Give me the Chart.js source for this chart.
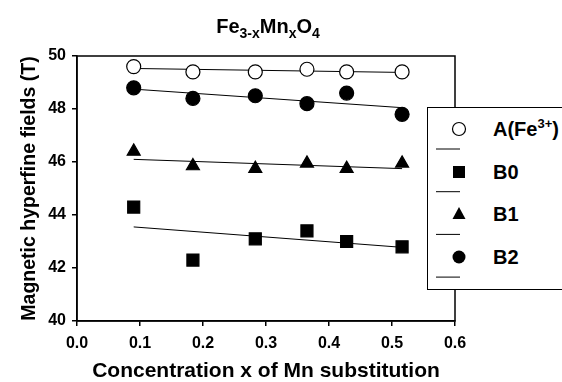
<!DOCTYPE html>
<html>
<head>
<meta charset="utf-8">
<script src="https://cdn.jsdelivr.net/npm/chart.js@4/dist/chart.umd.min.js"></script>
<style>
  body { margin: 0; background: #fff; }
  #wrap { position: relative; width: 562px; height: 382px; font-family: "Liberation Sans", Arial, sans-serif; }
  #title { position: absolute; left: 0; width: 536px; top: 14px; text-align: center; font-weight: bold; font-size: 20px; line-height: 24px; }
  #title sub { font-size: 14px; line-height: 0; }
  #legend { position: absolute; left: 427px; top: 107px; width: 145px; height: 183px; border: 1.5px solid #000; background: #fff; box-sizing: border-box; }
  .row { position: absolute; left: 0; width: 145px; }
  .row span { position: absolute; left: 65px; font-weight: bold; font-size: 20px; line-height: 24px; white-space: nowrap; }
  .row sup { font-size: 13px; line-height: 0; }
</style>
</head>
<body>
<div id="wrap">
  <canvas id="chart" width="562" height="382"></canvas>
  <div id="title">Fe<sub>3-x</sub>Mn<sub>x</sub>O<sub>4</sub></div>
  <div id="legend"></div>
</div>
<script>
// measured points
const xConc = [0.09, 0.184, 0.283, 0.365, 0.428, 0.516];
const fieldA  = [49.6, 49.4, 49.4, 49.5, 49.4, 49.4];
const fieldB0 = [44.3, 42.3, 43.1, 43.4, 43.0, 42.8];
const fieldB1 = [46.4, 45.85, 45.75, 45.95, 45.75, 45.95];
const fieldB2 = [48.8, 48.4, 48.5, 48.2, 48.6, 47.8];

const fitX = [0.09, 0.516];
const fitA  = [49.53, 49.38];
const fitB0 = [43.55, 42.78];
const fitB1 = [46.1, 45.75];
const fitB2 = [48.75, 48.05];

const xTicks = [0, 0.1, 0.2, 0.3, 0.4, 0.5, 0.6];
const yTicks = [40, 42, 44, 46, 48, 50];

const seriesNames = ['A(Fe<sup>3+</sup>)', 'B0', 'B1', 'B2'];

function pts(xs, ys) {
  return xs.map((x, i) => ({ x: x, y: ys[i] }));
}

function fitSet(ys) {
  return { data: pts(fitX, ys), showLine: true, borderColor: '#000', borderWidth: 1, pointRadius: 0, order: 2 };
}

function markSet(ys, style, radius, fill) {
  return { data: pts(xConc, ys), showLine: false, pointStyle: style, pointRadius: radius,
    pointBackgroundColor: fill, pointBorderColor: '#000', pointBorderWidth: 1.2, order: 1 };
}

const frame = {
  id: 'frame',
  afterDraw(chart) {
    const a = chart.chartArea, c = chart.ctx;
    c.save();
    c.strokeStyle = '#000';
    c.lineWidth = 1.5;
    c.strokeRect(a.left, a.top, a.right - a.left, a.bottom - a.top);
    c.restore();
  }
};

const tickFont = { family: 'Liberation Sans', size: 16, weight: 'bold' };

new Chart(document.getElementById('chart'), {
  type: 'scatter',
  data: {
    datasets: [
      fitSet(fitA), fitSet(fitB0), fitSet(fitB1), fitSet(fitB2),
      markSet(fieldA, 'circle', 7, '#fff'),
      markSet(fieldB0, 'rect', 8.5, '#000'),
      markSet(fieldB1, 'triangle', 7.5, '#000'),
      markSet(fieldB2, 'circle', 7, '#000')
    ]
  },
  options: {
    responsive: false,
    animation: false,
    layout: { padding: { top: 56, right: 107, left: 0, bottom: 0 } },
    plugins: { legend: { display: false }, tooltip: { enabled: false } },
    scales: {
      x: {
        type: 'linear', min: 0, max: 0.6,
        afterBuildTicks: s => { s.ticks = xTicks.map(v => ({ value: v })); },
        afterFit: s => { s.height = 61; },
        ticks: { color: '#000', font: tickFont, padding: 8, callback: v => v.toFixed(1), maxRotation: 0 },
        grid: { drawOnChartArea: false, drawTicks: true, tickLength: 5, color: '#000', lineWidth: 1.5 },
        border: { color: '#000', width: 1.5 },
        title: { display: true, text: 'Concentration x of Mn substitution', color: '#000',
          font: { family: 'Liberation Sans', size: 21, weight: 'bold', lineHeight: 1 }, padding: { top: 0, bottom: 0 } }
      },
      y: {
        type: 'linear', min: 40, max: 50,
        afterBuildTicks: s => { s.ticks = yTicks.map(v => ({ value: v })); },
        afterFit: s => { s.width = 77; },
        ticks: { color: '#000', font: tickFont, padding: 6 },
        grid: { drawOnChartArea: false, drawTicks: true, tickLength: 5, color: '#000', lineWidth: 1.5 },
        border: { color: '#000', width: 1.5 },
        title: { display: true, text: 'Magnetic hyperfine fields (T)', color: '#000',
          font: { family: 'Liberation Sans', size: 19.5, weight: 'bold' }, padding: { top: 18, bottom: 0 } }
      }
    }
  },
  plugins: [frame]
});

// legend built by hand, markers and short lines like the original
const legendMarks = [
  '<circle cx="31" cy="21" r="6.5" fill="#fff" stroke="#000" stroke-width="1.2"/>',
  '<rect x="25" y="58" width="12" height="12" fill="#000"/>',
  '<polygon points="31,99 37.5,111 24.5,111" fill="#000"/>',
  '<circle cx="31" cy="149" r="6.5" fill="#000"/>'
];
const legend = document.getElementById('legend');
let svg = '<svg width="60" height="180" style="position:absolute;left:0;top:0">';
legendMarks.forEach((m, i) => {
  svg += m;
  const ly = 41 + i * 42.7;
  svg += `<line x1="8" x2="32" y1="${ly}" y2="${ly}" stroke="#000" stroke-width="1"/>`;
});
svg += '</svg>';
legend.innerHTML = svg;
seriesNames.forEach((name, i) => {
  const s = document.createElement('div');
  s.className = 'row';
  s.style.top = (9 + i * 42.7) + 'px';
  s.innerHTML = `<span>${name}</span>`;
  legend.appendChild(s);
});
</script>
</body>
</html>
